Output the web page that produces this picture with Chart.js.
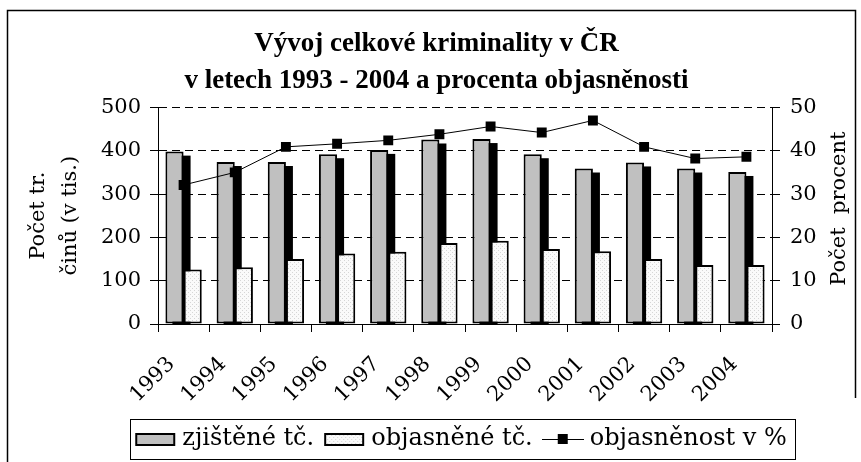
<!DOCTYPE html>
<html>
<head>
<meta charset="utf-8">
<script src="https://cdn.jsdelivr.net/npm/chart.js@4.4.1/dist/chart.umd.min.js"></script>
<style>
html, body { margin: 0; padding: 0; background: #fff; }
#wrap { width: 861px; height: 462px; position: relative; }
</style>
</head>
<body>
<div id="wrap"><canvas id="myChart"></canvas></div>
<script>
var years = ['1993', '1994', '1995', '1996', '1997', '1998', '1999', '2000', '2001', '2002', '2003', '2004'];
var zjistene = [398, 374, 374, 392, 402, 426, 427, 392, 359, 373, 359, 351];     // v tis.
var objasnene = [126, 131, 150, 163, 167, 187, 192, 173, 168, 150, 136, 136];     // v tis.
var objasnenost = [32.1, 35.0, 40.9, 41.6, 42.4, 43.8, 45.6, 44.2, 47.0, 40.9, 38.2, 38.6];  // v %

var titleLines = ['Vývoj celkové kriminality v ČR', 'v letech 1993 - 2004 a procenta objasněnosti'];
var leftTitle = ['Počet tr.', 'činů (v tis.)'];
var rightTitle = 'Počet  procent';
var legendTexts = ['zjištěné tč.', 'objasněné tč.', 'objasněnost v %'];

// the old excel text is wide, DejaVu Serif gets closer to it than Times
var serif = '"DejaVu Serif", serif';
var times = '"Liberation Serif", "Times New Roman", serif';
Chart.defaults.font.family = serif;
Chart.defaults.color = '#000';

// light dotted fill like the old excel pattern
function makePattern() {
  var c = document.createElement('canvas');
  c.width = 4; c.height = 4;
  var g = c.getContext('2d');
  g.fillStyle = '#fafafa';
  g.fillRect(0, 0, 4, 4);
  g.fillStyle = '#d6d6d6';
  g.fillRect(0, 0, 1, 1);
  g.fillRect(2, 2, 1, 1);
  return g.createPattern(c, 'repeat');
}
var dotted = makePattern();

function makeIcon(kind) {
  var c = document.createElement('canvas');
  c.width = 42; c.height = 16;
  var g = c.getContext('2d');
  if (kind == 'line') {
    g.strokeStyle = '#000';
    g.lineWidth = 1;
    g.beginPath(); g.moveTo(0, 8.5); g.lineTo(42, 8.5); g.stroke();
    g.fillStyle = '#000';
    g.fillRect(16, 3, 10, 10);
  } else {
    g.fillStyle = '#000';
    g.fillRect(1, 2, 40, 13);
    g.fillStyle = kind == 'gray' ? '#c0c0c0' : dotted;
    g.fillRect(3, 4, 36, 9);
  }
  return c;
}
var icons = [makeIcon('gray'), makeIcon('light'), makeIcon('line')];

// black drop shadow behind the gray bars, drawn before any dataset
var shadowPlugin = {
  id: 'barShadow',
  beforeDatasetsDraw: function(chart) {
    var meta = chart.getDatasetMeta(0);
    var ctx = chart.ctx, area = chart.chartArea;
    ctx.save();
    ctx.beginPath();
    ctx.rect(area.left, area.top, area.right - area.left, area.bottom - area.top);
    ctx.clip();
    ctx.fillStyle = '#000';
    meta.data.forEach(function(bar) {
      var p = bar.getProps(['x', 'y', 'base', 'width'], true);
      ctx.fillRect(p.x - p.width / 2 + 7, p.y + 4, p.width, p.base - p.y);
    });
    ctx.restore();
  }
};

// legend and title sit a bit right of centre in the picture
var boxShift = {
  id: 'boxShift',
  afterLayout: function(chart) {
    chart.legend.left += 33;
    chart.legend.right += 33;
    chart.titleBlock.left += 6;
    chart.titleBlock.right += 6;
  }
};

var framePlugin = {
  id: 'frame',
  afterDraw: function(chart) {
    var ctx = chart.ctx;
    ctx.save();
    ctx.strokeStyle = '#000';
    ctx.lineWidth = 1.5;
    // outer frame (bottom is cut off in the picture)
    ctx.beginPath();
    ctx.moveTo(7.5, 470);
    ctx.lineTo(7.5, 10.5);
    ctx.lineTo(855.5, 10.5);
    ctx.lineTo(855.5, 398);
    ctx.stroke();

    // legend box
    var boxes = chart.legend.legendHitBoxes;
    if (boxes && boxes.length) {
      var first = boxes[0], last = boxes[boxes.length - 1];
      var x1 = first.left - 10, x2 = last.left + last.width + 8;
      var y1 = first.top - 8, y2 = first.top + first.height + 8;
      ctx.lineWidth = 1;
      ctx.strokeRect(Math.round(x1) + 0.5, Math.round(y1) + 0.5, Math.round(x2 - x1), Math.round(y2 - y1));
    }

    // right axis title, reading bottom to top
    ctx.fillStyle = '#000';
    ctx.font = '21px ' + serif;
    ctx.textAlign = 'center';
    ctx.textBaseline = 'middle';
    ctx.translate(840, (chart.chartArea.top + chart.chartArea.bottom) / 2 - 7);
    ctx.rotate(-Math.PI / 2);
    ctx.fillText(rightTitle, 0, 0);
    ctx.restore();
  }
};

var chart = new Chart(document.getElementById('myChart'), {
  type: 'bar',
  data: {
    labels: years,
    datasets: [
      {
        label: legendTexts[0],
        data: zjistene,
        yAxisID: 'y',
        backgroundColor: '#c0c0c0',
        borderColor: '#000',
        borderWidth: 2,
        borderSkipped: false,
        categoryPercentage: 0.71,
        barPercentage: 1.0,
        order: 1
      },
      {
        label: legendTexts[1],
        data: objasnene,
        yAxisID: 'y',
        backgroundColor: dotted,
        borderColor: '#000',
        borderWidth: 2,
        borderSkipped: false,
        categoryPercentage: 0.71,
        barPercentage: 1.0,
        order: 2
      },
      {
        type: 'line',
        label: legendTexts[2],
        data: objasnenost,
        yAxisID: 'y1',
        borderColor: '#000',
        backgroundColor: '#000',
        borderWidth: 1,
        pointStyle: 'rect',
        pointRadius: 7,
        pointBorderWidth: 0,
        tension: 0,
        order: 0
      }
    ]
  },
  options: {
    responsive: true,
    maintainAspectRatio: false,
    animation: false,
    events: [],
    layout: {
      padding: { left: 10, right: 10, top: 12, bottom: 1 }
    },
    scales: {
      x: {
        grid: { offset: true, drawOnChartArea: false, color: '#000', tickLength: 8 },
        border: { color: '#000' },
        ticks: { maxRotation: 45, minRotation: 45, font: { size: 21 }, padding: 20, labelOffset: -12 },
        afterFit: function(scale) { scale.height = 88; }
      },
      y: {
        position: 'left',
        min: 0,
        max: 500,
        ticks: { stepSize: 100, font: { size: 21 }, padding: 9 },
        grid: { color: '#000', tickLength: 8, tickBorderDash: [] },
        border: { color: '#000', dash: [8, 5] },
        title: {
          display: true,
          text: leftTitle,
          font: { size: 21, lineHeight: 1.55 },
          padding: { top: 12, bottom: 0 }
        },
        afterFit: function(scale) { scale.width = 148; }
      },
      y1: {
        position: 'right',
        min: 0,
        max: 50,
        ticks: { stepSize: 10, font: { size: 21 }, padding: 10 },
        grid: { drawOnChartArea: false, color: '#000', tickLength: 8 },
        border: { color: '#000' },
        afterFit: function(scale) { scale.width = 79; }
      }
    },
    plugins: {
      title: {
        display: true,
        text: titleLines,
        font: { size: 27, weight: 'bold', lineHeight: 1.36, family: times },
        color: '#000',
        padding: { top: 14, bottom: 8 }
      },
      legend: {
        position: 'bottom',
        labels: {
          usePointStyle: true,
          pointStyleWidth: 30,
          padding: 15,
          font: { size: 24 },
          color: '#000',
          generateLabels: function(chart) {
            return legendTexts.map(function(t, i) {
              return {
                text: t,
                pointStyle: icons[i],
                fontColor: '#000',
                hidden: false,
                lineWidth: 0,
                datasetIndex: i
              };
            });
          }
        }
      },
      tooltip: { enabled: false }
    }
  },
  plugins: [shadowPlugin, boxShift, framePlugin]
});
</script>
</body>
</html>
